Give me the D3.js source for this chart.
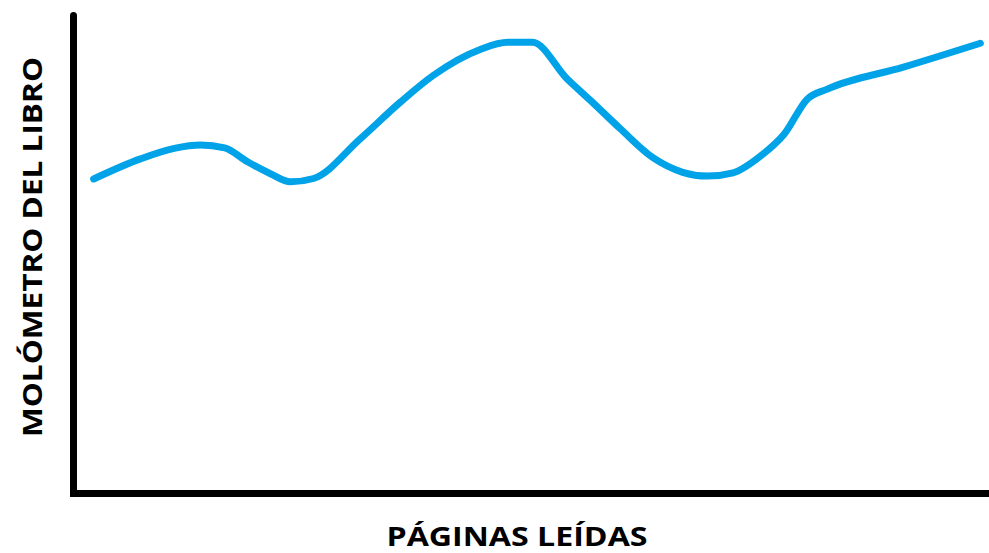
<!DOCTYPE html>
<html>
<head>
<meta charset="utf-8">
<script src="https://cdn.jsdelivr.net/npm/d3@7"></script>
<style>
  html, body { margin: 0; padding: 0; background: #fff; }
  svg { display: block; }
  text { font-family: "Open Sans", "DejaVu Sans", sans-serif; font-weight: 700; fill: #000; }
</style>
</head>
<body>
<svg id="chart" width="989" height="553"></svg>
<script>
// Data: pages read vs. "molómetro"
const pages = [22, 73, 110, 139, 165, 190, 215, 237, 262, 313, 357, 393, 444, 474, 501, 539, 564, 597, 633, 665, 692, 720, 750, 776, 801, 823, 906, 990];
const molometro = [65.8, 70, 72.2, 72.9, 72.3, 69.4, 66.9, 65.2, 65.9, 74.2, 81.9, 87.5, 92.9, 94.4, 94.4, 86.7, 82.3, 76.3, 70.2, 67.2, 66.4, 67.1, 70.6, 75.2, 82.5, 84.6, 89.2, 94.2];
const xLabel = "PÁGINAS LEÍDAS";
const yLabel = "MOLÓMETRO DEL LIBRO";

const svg = d3.select("#chart");
const x = d3.scaleLinear().domain([0, 1000]).range([73.5, 989.5]);
const y = d3.scaleLinear().domain([0, 100]).range([493.5, 15.5]);

// Axes (no ticks): L-shaped frame
const [x0, x1] = x.range();
const [yb, yt] = y.range();
svg.append("path")
  .attr("d", d3.line()([[x0, yt], [x0, yb], [x1 + 5, yb]]))
  .attr("fill", "none")
  .attr("stroke", "#000")
  .attr("stroke-width", 7)
  .attr("stroke-linecap", "round")
  .attr("stroke-linejoin", "miter");

// Curve
const pts = pages.map((p, i) => [p, molometro[i]]);
svg.append("path")
  .datum(pts)
  .attr("d", d3.line().x(d => x(d[0])).y(d => y(d[1])).curve(d3.curveMonotoneX))
  .attr("fill", "none")
  .attr("stroke", "#00a2e8")
  .attr("stroke-width", 7)
  .attr("stroke-linecap", "round")
  .attr("stroke-linejoin", "round");

// Labels
svg.append("text")
  .attr("x", 517)
  .attr("y", 546)
  .attr("text-anchor", "middle")
  .attr("font-size", 26)
  .attr("textLength", 261)
  .attr("lengthAdjust", "spacingAndGlyphs")
  .text(xLabel);

svg.append("text")
  .attr("transform", "translate(42,247) rotate(-90)")
  .attr("text-anchor", "middle")
  .attr("font-size", 27)
  .attr("textLength", 380)
  .attr("lengthAdjust", "spacingAndGlyphs")
  .text(yLabel);
</script>
</body>
</html>
